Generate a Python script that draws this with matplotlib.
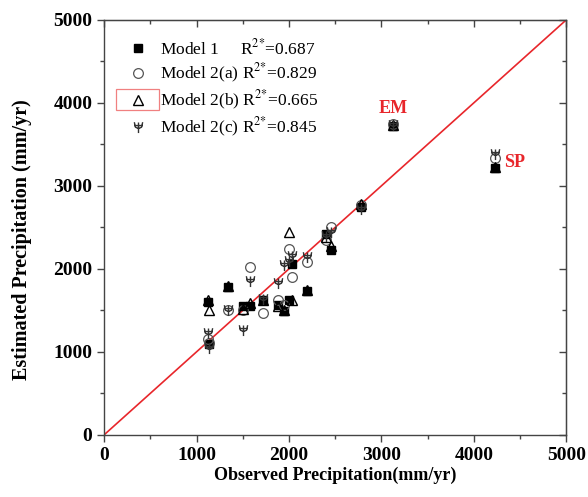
import numpy as np
import matplotlib
matplotlib.use("Agg")
import matplotlib.pyplot as plt
from matplotlib.path import Path
from matplotlib.lines import Line2D
from matplotlib.patches import Rectangle
from matplotlib.ticker import MultipleLocator

plt.rcParams['font.family'] = 'Liberation Serif'
plt.rcParams['mathtext.fontset'] = 'stix'

# observed vs. estimated annual precipitation at each station (mm/yr)
observed = [1120, 1130, 1340, 1500, 1580, 1720, 1880, 1950, 2000, 2030, 2200, 2400, 2450, 2780, 3130, 4230]
model_1  = [1600, 1090, 1780, 1550, 1550, 1620, 1570, 1490, 1620, 2060, 1730, 2420, 2230, 2740, 3720, 3220]
model_2a = [1150, 1110, 1500, 1500, 2020, 1470, 1620, 1560, 2240, 1900, 2080, 2350, 2500, 2770, 3740, 3330]
model_2b = [1620, 1500, 1790, 1520, 1590, 1630, 1550, 1500, 2440, 1620, 1750, 2380, 2270, 2780, 3730, 3230]
model_2c = [1230, 1050, 1500, 1260, 1850, 1640, 1830, 2050, 2100, 2150, 2140, 2400, 2450, 2720, 3730, 3380]

labels = [r'Model 1     R$^{2{*}}$=0.687',
          r'Model 2(a) R$^{2{*}}$=0.829',
          r'Model 2(b) R$^{2{*}}$=0.665',
          r'Model 2(c) R$^{2{*}}$=0.845']

# trident-like marker for model 2(c)
psi = Path([(0, -1), (0, 0.9),
            (-0.8, 0.35), (0.8, 0.35),
            (-0.75, 0.95), (-0.55, 0.05), (0, -0.2), (0.55, 0.05), (0.75, 0.95)],
           [Path.MOVETO, Path.LINETO,
            Path.MOVETO, Path.LINETO,
            Path.MOVETO, Path.LINETO, Path.LINETO, Path.LINETO, Path.LINETO])

fig = plt.figure(figsize=(5.88, 4.97), dpi=100)
ax = fig.add_axes([0.177, 0.125, 0.786, 0.835])

ax.plot([0, 5000], [0, 5000], color='#e8262b', lw=1.2, zorder=1)

styles = [
    dict(marker='s', mfc='black', mec='black', ms=5.5),
    dict(marker='o', mfc='none', mec='#555555', ms=7, mew=0.9),
    dict(marker='^', mfc='none', mec='black', ms=7, mew=1.0),
    dict(marker=psi, mfc='none', mec='#333333', ms=8, mew=1.0),
]
series = [model_1, model_2a, model_2b, model_2c]
handles = []
for est, st in zip(series, styles):
    ax.plot(observed, est, ls='none', zorder=3, **st)
    handles.append(Line2D([], [], ls='none', **st))

ax.text(3130, 3880, 'EM', color='#e8262b', fontsize=13, fontweight='bold', ha='center')
ax.text(4330, 3230, 'SP', color='#e8262b', fontsize=13, fontweight='bold', ha='left')

ax.legend(handles, labels, loc='upper left', frameon=False, fontsize=12.5,
          bbox_to_anchor=(0.02, 0.985), handletextpad=0.5, labelspacing=0.22,
          handlelength=1.5, borderaxespad=0.3)

ax.add_patch(Rectangle((0.026, 0.784), 0.092, 0.05, transform=ax.transAxes,
                       fill=False, ec='#f08080', lw=0.9, zorder=5))

ax.set_xlim(0, 5000)
ax.set_ylim(0, 5000)
ax.xaxis.set_major_locator(MultipleLocator(1000))
ax.yaxis.set_major_locator(MultipleLocator(1000))
ax.xaxis.set_minor_locator(MultipleLocator(500))
ax.yaxis.set_minor_locator(MultipleLocator(500))
ax.tick_params(which='both', direction='out', top=False, right=False, width=1, color='#444444')
ax.tick_params(which='major', length=5)
ax.tick_params(which='minor', length=3)

# inward ticks on the top and right edges
sec_x = ax.secondary_xaxis('top')
sec_y = ax.secondary_yaxis('right')
for s in (sec_x, sec_y):
    s.tick_params(which='both', direction='in', width=1, color='#444444')
    s.tick_params(which='major', length=5)
    s.tick_params(which='minor', length=3)
sec_x.xaxis.set_major_locator(MultipleLocator(1000))
sec_x.xaxis.set_minor_locator(MultipleLocator(500))
sec_y.yaxis.set_major_locator(MultipleLocator(1000))
sec_y.yaxis.set_minor_locator(MultipleLocator(500))
sec_x.set_xticklabels([])
sec_y.set_yticklabels([])

for sp in ax.spines.values():
    sp.set_color('#444444')
    sp.set_linewidth(1.0)

for lab in ax.get_xticklabels() + ax.get_yticklabels():
    lab.set_fontweight('bold')
    lab.set_fontsize(14)

ax.set_xlabel('Observed Precipitation(mm/yr)', fontsize=13, fontweight='bold', labelpad=2)
ax.set_ylabel('Estimated Precipitation (mm/yr)', fontsize=14.5, fontweight='bold')
ax.yaxis.set_label_coords(-0.155, 0.47)

fig.savefig('out.png', dpi=100)
